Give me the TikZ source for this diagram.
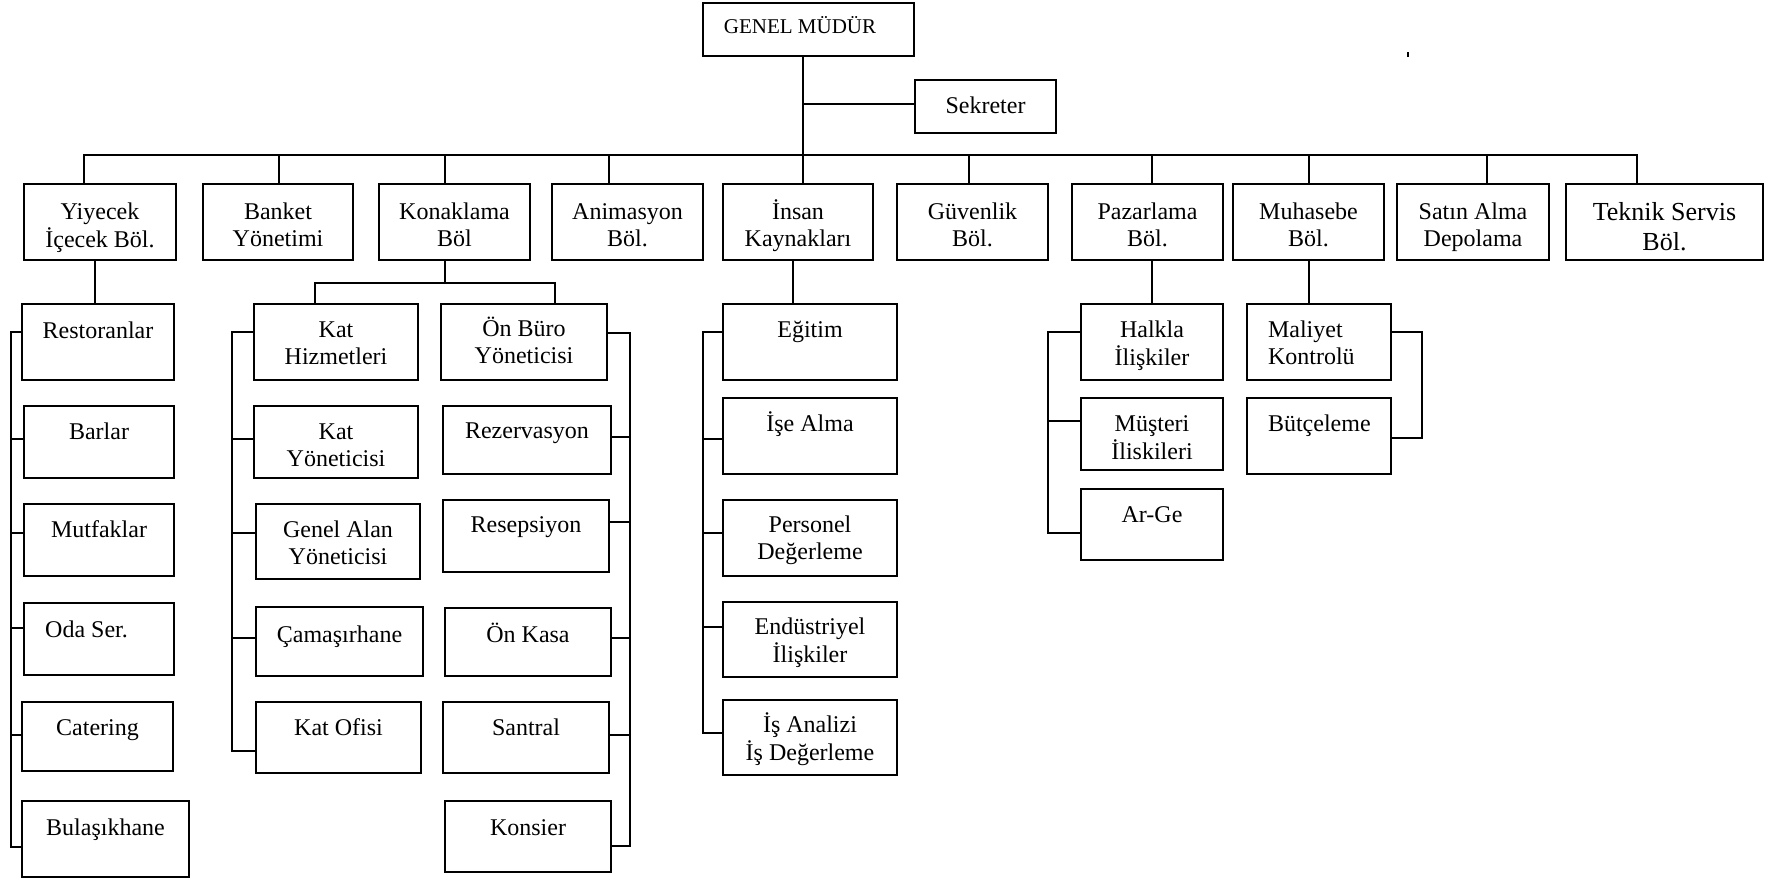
\documentclass[tikz,border=0pt]{standalone}
\usepackage{fontspec}
\setmainfont{Liberation Serif}

% text block whose baseline is the baseline of its first line
\newcommand\orglines[1]{\begin{tabular}[t]{@{}c@{}}#1\end{tabular}}
\newcommand\orglinesl[1]{\begin{tabular}[t]{@{}l@{}}#1\end{tabular}}

% framed unit: name, x1, y1, x2, y2 (top-down pixel grid)
\newcommand\orgframe[5]{%
  \node[orgbox, minimum width={(#4-#2)*0.5pt}, minimum height={(#5-#3)*0.5pt}]
    (#1) at ({(#2+#4)/2},{(#3+#5)/2}) {};}

% framed unit with centred text; optional arg = first baseline below the top edge
\newcommand\orgunit[7][34]{%
  \orgframe{#2}{#3}{#4}{#5}{#6}%
  \node[orgtext] (#2-t) at ({(#3+#5)/2},{#4+#1}) {\orglines{#7}};}

\begin{document}
\begin{tikzpicture}[x=0.5pt,y=-0.5pt,
  orgbox/.style={draw, line width=1pt, rectangle, inner sep=0pt, outer sep=0pt},
  orgtext/.style={inner sep=0pt, outer sep=0pt, anchor=base,
                  font=\fontsize{12}{13.8}\selectfont},
  link/.style={draw, line width=1pt, line cap=rect}]
\useasboundingbox (0,0) rectangle (1769,880);

% ---- top management
\orgframe{gm}{703}{3}{914}{56}
\node[orgtext, font=\fontsize{10.5}{12}\selectfont] (gm-t) at (800,33) {GENEL MÜDÜR};
\orgunit[33]{sek}{915}{80}{1056}{133}{Sekreter}

% ---- departments
\orgunit[35]{yiy}{24}{184}{176}{260}{Yiyecek\\İçecek Böl.}
\orgunit[35]{ban}{203}{184}{353}{260}{Banket\\Yönetimi}
\orgunit[35]{kon}{379}{184}{530}{260}{Konaklama\\Böl}
\orgunit[35]{ani}{552}{184}{703}{260}{Animasyon\\Böl.}
\orgunit[35]{ins}{723}{184}{873}{260}{İnsan\\Kaynakları}
\orgunit[35]{guv}{897}{184}{1048}{260}{Güvenlik\\Böl.}
\orgunit[35]{paz}{1072}{184}{1223}{260}{Pazarlama\\Böl.}
\orgunit[35]{muh}{1233}{184}{1384}{260}{Muhasebe\\Böl.}
\orgunit[35]{sat}{1397}{184}{1549}{260}{Satın Alma\\Depolama}
\orgframe{tek}{1566}{184}{1763}{260}
\node[orgtext, font=\fontsize{13}{15}\selectfont] (tek-t) at (1664.5,220) {\orglines{Teknik Servis\\Böl.}};

% ---- food & beverage
\orgunit{rest}{22}{304}{174}{380}{Restoranlar}
\orgunit[33]{bar}{24}{406}{174}{478}{Barlar}
\orgunit[33]{mut}{24}{504}{174}{576}{Mutfaklar}
\orgframe{oda}{24}{603}{174}{675}
\node[orgtext] (oda-t) at (86.5,637) {Oda Ser.};
\orgunit[33]{cat}{22}{702}{173}{771}{Catering}
\orgunit{bul}{22}{801}{189}{877}{Bulaşıkhane}

% ---- accommodation: housekeeping
\orgunit[33]{kath}{254}{304}{418}{380}{Kat\\Hizmetleri}
\orgunit[33]{katy}{254}{406}{418}{478}{Kat\\Yöneticisi}
\orgunit[33]{gen}{256}{504}{420}{579}{Genel Alan\\Yöneticisi}
\orgunit[35]{cam}{256}{607}{423}{676}{Çamaşırhane}
\orgunit[33]{kof}{256}{702}{421}{773}{Kat Ofisi}

% ---- accommodation: front office
\orgunit[32]{onb}{441}{304}{607}{380}{Ön Büro\\Yöneticisi}
\orgunit[32]{rez}{443}{406}{611}{474}{Rezervasyon}
\orgunit[32]{res}{443}{500}{609}{572}{Resepsiyon}
\orgunit{onk}{445}{608}{611}{676}{Ön Kasa}
\orgunit[33]{san}{443}{702}{609}{773}{Santral}
\orgunit{kns}{445}{801}{611}{872}{Konsier}

% ---- human resources
\orgunit[33]{egt}{723}{304}{897}{380}{Eğitim}
\orgunit[33]{ise}{723}{398}{897}{474}{İşe Alma}
\orgunit[32]{per}{723}{500}{897}{576}{Personel\\Değerleme}
\orgunit[32]{endu}{723}{602}{897}{677}{Endüstriyel\\İlişkiler}
\orgunit[32]{isa}{723}{700}{897}{775}{İş Analizi\\İş Değerleme}

% ---- marketing
\orgunit[33]{hlk}{1081}{304}{1223}{380}{Halkla\\İlişkiler}
\orgunit[33]{mus}{1081}{398}{1223}{470}{Müşteri\\İliskileri}
\orgunit[33]{arg}{1081}{489}{1223}{560}{Ar-Ge}

% ---- accounting
\orgframe{mal}{1247}{304}{1391}{380}
\node[orgtext, anchor=base west] (mal-t) at (1268,337) {\orglinesl{Maliyet\\Kontrolü}};
\orgframe{but}{1247}{398}{1391}{474}
\node[orgtext, anchor=base west] (but-t) at (1268,431) {Bütçeleme};

% ---- trunk, secretary and department bus
\coordinate (trunk) at (803,155);
\draw[link] (trunk |- gm.south) -- (trunk |- ins.north);
\coordinate (sekj) at (803,104);
\draw[link] (sekj) -- (sek.west |- sekj);
\coordinate (busL) at (84,155);
\coordinate (busR) at (1637,155);
\draw[link] (busL) -- (busR);
\foreach \nm/\xx in {yiy/84,ban/279,kon/445,ani/609,guv/969,paz/1152,muh/1309,sat/1487,tek/1637}
  \draw[link] (\xx,155) coordinate (b-\nm) -- (b-\nm |- \nm.north);

% ---- drops into sub-units
\coordinate (yd) at (95,0);
\draw[link] (yd |- yiy.south) -- (yd |- rest.north);
\coordinate (kj) at (445,283);
\coordinate (kl) at (315,283);
\coordinate (kr) at (555,283);
\draw[link] (kj |- kon.south) -- (kj);
\draw[link] (kl |- kath.north) -- (kl) -- (kr) -- (kr |- onb.north);
\coordinate (id) at (793,0);
\draw[link] (id |- ins.south) -- (id |- egt.north);
\coordinate (pd) at (1152,0);
\draw[link] (pd |- paz.south) -- (pd |- hlk.north);
\coordinate (md) at (1309,0);
\draw[link] (md |- muh.south) -- (md |- mal.north);

% ---- side spines
\foreach \nm/\yy in {rest/332,bar/439,mut/533,oda/628,cat/735,bul/847}
  \draw[link] (11,\yy) coordinate (y-\nm) -- (y-\nm -| \nm.west);
\draw[link] (y-rest) -- (y-bul);

\foreach \nm/\yy in {kath/332,katy/439,gen/533,cam/638,kof/751}
  \draw[link] (232,\yy) coordinate (k-\nm) -- (k-\nm -| \nm.west);
\draw[link] (k-kath) -- (k-kof);

\foreach \nm/\yy in {onb/333,rez/437,res/522,onk/638,san/735,kns/846}
  \draw[link] (630,\yy) coordinate (o-\nm) -- (o-\nm -| \nm.east);
\draw[link] (o-onb) -- (o-kns);

\foreach \nm/\yy in {egt/332,ise/439,per/533,endu/627,isa/733}
  \draw[link] (703,\yy) coordinate (h-\nm) -- (h-\nm -| \nm.west);
\draw[link] (h-egt) -- (h-isa);

\foreach \nm/\yy in {hlk/332,mus/421,arg/533}
  \draw[link] (1048,\yy) coordinate (p-\nm) -- (p-\nm -| \nm.west);
\draw[link] (p-hlk) -- (p-arg);

\foreach \nm/\yy in {mal/332,but/438}
  \draw[link] (1422,\yy) coordinate (m-\nm) -- (m-\nm -| \nm.east);
\draw[link] (m-mal) -- (m-but);

% ---- small stray tick
\coordinate (tickA) at (1408,52);
\coordinate (tickB) at (1408,57);
\draw[line width=1pt] (tickA) -- (tickB);
\end{tikzpicture}
\end{document}
